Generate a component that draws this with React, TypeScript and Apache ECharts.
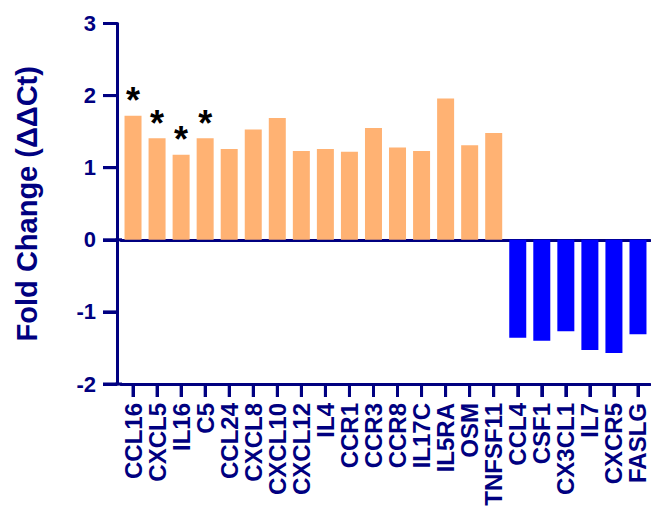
import React, { useEffect, useRef } from "react";
import * as echarts from "echarts";

const categories = [
  "CCL16", "CXCL5", "IL16", "C5", "CCL24", "CXCL8", "CXCL10", "CXCL12",
  "IL4", "CCR1", "CCR3", "CCR8", "IL17C", "IL5RA", "OSM", "TNFSF11",
  "CCL4", "CSF1", "CX3CL1", "IL7", "CXCR5", "FASLG",
];
const foldChange = [
  1.72, 1.41, 1.18, 1.41, 1.26, 1.53, 1.69, 1.23,
  1.26, 1.22, 1.55, 1.28, 1.23, 1.96, 1.31, 1.48,
  -1.36, -1.40, -1.27, -1.53, -1.57, -1.31,
];
const significant = [
  true, true, true, true, false, false, false, false,
  false, false, false, false, false, false, false, false,
  false, false, false, false, false, false,
];
const yTicks = [-2, -1, 0, 1, 2, 3];

const NAVY = "#000080";
const TICK = "#000082";
const UP = "#FFB273";
const DOWN = "#0000FF";
const FONT = "Liberation Sans, Arial, sans-serif";

export default function App() {
  const ref = useRef<HTMLDivElement>(null);
  useEffect(() => {
    if (!ref.current) return;
    const chart = echarts.init(ref.current, null, { renderer: "svg" });
    const W = 651;
    const gridLeft = 121;
    const gridRight = 1;
    const gridTop = 23.5;
    const gridHeight = 360.5;
    const yOffset = 4;
    const yTickLen = 14;
    const xTickLen = 13;
    const yMin = yTicks[0];
    const yMax = yTicks[yTicks.length - 1];
    const toY = (v: number) => gridTop + (gridHeight * (yMax - v)) / (yMax - yMin);
    const zeroY = toY(0);
    const bottomY = gridTop + gridHeight;
    const axisX = gridLeft - yOffset;
    const band = (W - gridLeft - gridRight) / categories.length;

    const tickLines: any[] = [];
    yTicks.forEach((t) => {
      tickLines.push({
        type: "line",
        shape: { x1: axisX - yTickLen, y1: toY(t), x2: axisX, y2: toY(t) },
        style: { stroke: NAVY, lineWidth: 3 },
      });
    });
    categories.forEach((_, i) => {
      const cx = gridLeft + (i + 0.5) * band;
      tickLines.push({
        type: "line",
        shape: { x1: cx, y1: bottomY, x2: cx, y2: bottomY + xTickLen },
        style: { stroke: NAVY, lineWidth: 3 },
      });
    });

    chart.setOption({
      animation: false,
      grid: { left: gridLeft, top: gridTop, height: gridHeight, right: gridRight },
      xAxis: [
        {
          type: "category",
          data: categories,
          position: "bottom",
          axisLine: { onZero: false, lineStyle: { color: NAVY, width: 3 } },
          axisTick: { show: true, length: xTickLen, alignWithLabel: true, lineStyle: { color: TICK, width: 3 } },
          axisLabel: {
            rotate: 90,
            interval: 0,
            margin: 19,
            color: NAVY,
            fontFamily: FONT,
            fontWeight: "bold",
            fontSize: 24,
          },
        },
        {
          type: "category",
          data: categories,
          position: "bottom",
          axisLine: { onZero: true, lineStyle: { color: NAVY, width: 3 } },
          axisTick: { show: false },
          axisLabel: { show: false },
        },
      ],
      yAxis: {
        type: "value",
        min: yMin,
        max: yMax,
        interval: 1,
        offset: yOffset,
        splitLine: { show: false },
        axisLine: { show: true, lineStyle: { color: NAVY, width: 3 } },
        axisTick: { show: true, length: yTickLen, lineStyle: { color: TICK, width: 3 } },
        axisLabel: {
          margin: 21,
          color: NAVY,
          fontFamily: FONT,
          fontWeight: "bold",
          fontSize: 22,
        },
        name: "Fold Change (ΔΔCt)",
        nameLocation: "middle",
        nameRotate: 90,
        nameGap: 76,
        nameTextStyle: {
          color: NAVY,
          fontFamily: FONT,
          fontWeight: "bold",
          fontSize: 29,
        },
      },
      graphic: [
        {
          type: "line",
          shape: { x1: axisX - 1.5, y1: zeroY, x2: gridLeft + 1, y2: zeroY },
          style: { stroke: NAVY, lineWidth: 3 },
        },
        {
          type: "line",
          shape: { x1: axisX - 1.5, y1: bottomY, x2: gridLeft + 1, y2: bottomY },
          style: { stroke: NAVY, lineWidth: 3 },
        },
        ...tickLines,
      ],
      series: [
        {
          type: "bar",
          barWidth: 17,
          data: foldChange.map((v, i) => ({
            value: v,
            itemStyle: { color: v >= 0 ? UP : DOWN },
            label: significant[i]
              ? {
                  show: true,
                  position: "top",
                  formatter: "*",
                  color: "#000",
                  fontFamily: FONT,
                  fontWeight: "bold",
                  fontSize: 36,
                  distance: -3,
                }
              : { show: false },
          })),
        },
      ],
    });
    return () => chart.dispose();
  }, []);
  return (
    <div
      ref={ref}
      style={{ position: "fixed", left: 0, top: 0, width: 651, height: 509, background: "#fff" }}
    />
  );
}
